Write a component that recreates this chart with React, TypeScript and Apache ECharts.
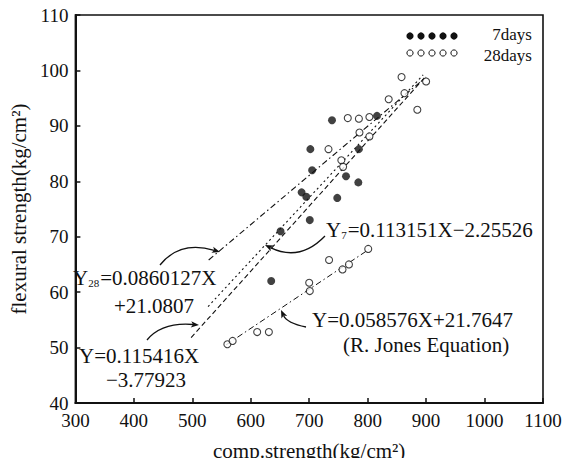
import React, { useEffect, useRef } from "react";
import * as echarts from "echarts";

// ---- data ----
const xTickValues = [300, 400, 500, 600, 700, 800, 900, 1000, 1100];
const yTickValues = [40, 50, 60, 70, 80, 90, 100, 110];

const sevenDays: [number, number][] = [
  [739, 91], [816, 91.8], [785, 85.8], [702, 85.8], [705, 82], [763, 80.9],
  [784, 79.8], [687, 78], [695, 77.2], [748, 77], [701, 73], [651, 71], [635, 62],
];

const twentyEightDays: [number, number][] = [
  [858, 98.8], [900, 98], [836, 94.8], [863, 95.9], [885, 92.9],
  [766, 91.4], [785, 91.3], [803, 91.6], [786, 88.8], [803, 88.1],
  [733, 85.8], [755, 83.8], [758, 82.6],
  [734, 65.8], [757, 64.1], [768, 65], [801, 67.8], [700, 61.7], [701, 60.2],
  [611, 52.8], [631, 52.8], [560, 50.6], [569, 51.2],
];

const lineY28: [number, number][] = [[528, 65.8], [900, 98.8]];
const lineY7: [number, number][] = [[527, 57.4], [895, 99.2]];
const lineY: [number, number][] = [[498, 51.8], [900, 99.0]];
const lineJones: [number, number][] = [[558, 50.5], [802, 67.7]];

const FONT = "Liberation Serif";
const INK = "#111";

function arrow(x1: number, y1: number, cx: number, cy: number, x2: number, y2: number) {
  const dx = x2 - cx;
  const dy = y2 - cy;
  const len = Math.sqrt(dx * dx + dy * dy) || 1;
  const ux = dx / len;
  const uy = dy / len;
  const L = 8;
  const W = 3.2;
  const bx = x2 - ux * L;
  const by = y2 - uy * L;
  return [
    {
      type: "bezierCurve",
      shape: { x1, y1, cpx1: cx, cpy1: cy, x2: bx + ux * 2, y2: by + uy * 2 },
      style: { stroke: INK, lineWidth: 1.3, fill: null },
      silent: true,
    },
    {
      type: "polygon",
      shape: {
        points: [
          [x2, y2],
          [bx - uy * W, by + ux * W],
          [bx + ux * 2, by + uy * 2],
          [bx + uy * W, by - ux * W],
        ],
      },
      style: { fill: INK },
      silent: true,
    },
  ];
}

function label(x: number, y: number, text: string, rich = false) {
  return {
    type: "text",
    x,
    y,
    silent: true,
    style: {
      text,
      fill: INK,
      fontFamily: FONT,
      fontSize: 21,
      textAlign: "left",
      textVerticalAlign: "middle",
      rich: rich
        ? {
            a: { fontFamily: FONT, fontSize: 21, fill: INK, color: INK },
            s: { fontFamily: FONT, fontSize: 11, fill: INK, color: INK, verticalAlign: "bottom", padding: [9, 1, 0, 0] },
          }
        : undefined,
    },
  };
}

export default function App() {
  const ref = useRef<HTMLDivElement>(null);

  useEffect(() => {
    if (!ref.current) return;
    const chart = echarts.init(ref.current, null, { renderer: "svg" });

    const xMin = xTickValues[0];
    const xMax = xTickValues[xTickValues.length - 1];
    const xInt = xTickValues[1] - xTickValues[0];
    const yMin = yTickValues[0];
    const yMax = yTickValues[yTickValues.length - 1];
    const yInt = yTickValues[1] - yTickValues[0];

    const lineSeries = (name: string, data: [number, number][], dash: number[], w = 1.1) => ({
      name,
      type: "line",
      data,
      symbol: "none",
      silent: true,
      lineStyle: { color: INK, width: w, type: dash },
      z: 3,
    });

    const legendX = [410, 421, 432, 443, 454];

    chart.setOption({
      animation: false,
      backgroundColor: "#fff",
      textStyle: { fontFamily: FONT },
      grid: {
        left: 69,
        right: 27,
        top: 15,
        bottom: 62,
        show: true,
        borderColor: INK,
        borderWidth: 1.6,
        backgroundColor: "transparent",
      },
      xAxis: {
        type: "value",
        min: xMin,
        max: xMax,
        interval: xInt,
        name: "comp.strength(kg/cm²)",
        nameLocation: "middle",
        nameGap: 37,
        nameTextStyle: { fontFamily: FONT, fontSize: 21, color: INK },
        axisLine: { lineStyle: { color: INK, width: 2 } },
        axisTick: { inside: true, length: 5, lineStyle: { color: INK, width: 1.5 } },
        axisLabel: { fontFamily: FONT, fontSize: 19, color: INK, margin: 8, formatter: (v: number) => String(v) },
        splitLine: { show: false },
      },
      yAxis: {
        type: "value",
        min: yMin,
        max: yMax,
        interval: yInt,
        name: "flexural strength(kg/cm²)",
        nameLocation: "middle",
        nameGap: 44,
        nameTextStyle: { fontFamily: FONT, fontSize: 21, color: INK },
        axisLine: { lineStyle: { color: INK, width: 2 } },
        axisTick: { inside: true, length: 5, lineStyle: { color: INK, width: 1.5 } },
        axisLabel: { fontFamily: FONT, fontSize: 19, color: INK, margin: 7, formatter: (v: number) => String(v) },
        splitLine: { show: false },
      },
      series: [
        lineSeries("Y28", lineY28, [6, 3, 1.5, 3]),
        lineSeries("Y7", lineY7, [2, 3]),
        lineSeries("Y", lineY, [5, 3]),
        lineSeries("R. Jones", lineJones, [6, 3, 1.5, 3], 1),
        {
          name: "7days",
          type: "scatter",
          data: sevenDays,
          symbol: "circle",
          symbolSize: 8,
          itemStyle: { color: INK },
          z: 4,
        },
        {
          name: "28days",
          type: "scatter",
          data: twentyEightDays,
          symbol: "circle",
          symbolSize: 7,
          itemStyle: { color: "#fff", borderColor: INK, borderWidth: 1.1 },
          z: 4,
        },
      ],
      graphic: [
        // legend
        ...legendX.map((x) => ({
          type: "circle",
          shape: { cx: x, cy: 36, r: 3.6 },
          style: { fill: INK },
          silent: true,
        })),
        ...legendX.map((x) => ({
          type: "circle",
          shape: { cx: x, cy: 53, r: 3.1 },
          style: { fill: "#fff", stroke: INK, lineWidth: 1 },
          silent: true,
        })),
        {
          type: "text",
          x: 532,
          y: 34,
          style: { text: "7days", fill: INK, fontFamily: FONT, fontSize: 17, lineHeight: 16, textAlign: "right", textVerticalAlign: "middle" },
          silent: true,
        },
        {
          type: "text",
          x: 532,
          y: 55,
          style: { text: "28days", fill: INK, fontFamily: FONT, fontSize: 17, lineHeight: 16, textAlign: "right", textVerticalAlign: "middle" },
          silent: true,
        },
        // annotations
        label(326, 230, "{a|Y}{s|7}{a|=0.113151X−2.25526}", true),
        label(73, 278, "{a|Y}{s|28}{a|=0.0860127X}", true),
        label(114, 306, "+21.0807"),
        label(79, 356, "Y=0.115416X"),
        label(106, 380, "−3.77923"),
        label(312, 320, "Y=0.058576X+21.7647"),
        label(343, 345, "(R. Jones Equation)"),
        ...arrow(160, 265, 180, 240, 220, 252),
        ...arrow(325, 236, 300, 262, 265, 245),
        ...arrow(147, 340, 162, 322, 199, 325),
        ...arrow(306, 327, 287, 323, 281, 310),
      ],
    });

    return () => chart.dispose();
  }, []);

  return <div ref={ref} style={{ width: 570, height: 466, margin: -8 }} />;
}
